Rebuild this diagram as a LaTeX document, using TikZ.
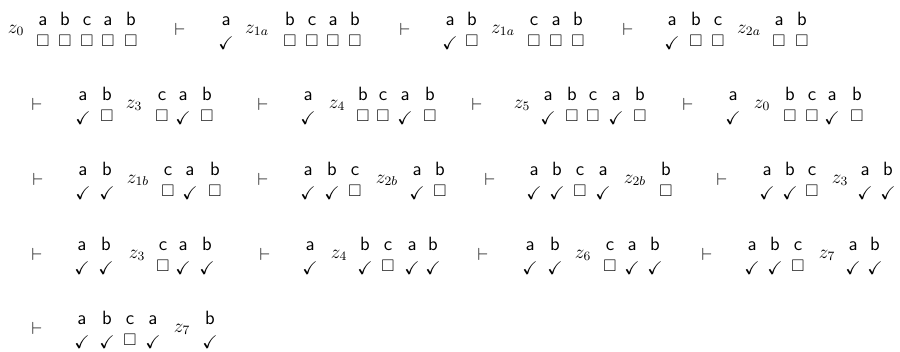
\documentclass[tikz,border=0pt]{standalone}
\usepackage{amssymb}
\tikzset{
  lt/.style={font=\large\sffamily, anchor=base, inner sep=0pt},
  bx/.style={font=\fontsize{10.5}{13}\selectfont, anchor=south, inner sep=0pt},
  ck/.style={font=\fontsize{11.5}{13}\selectfont, anchor=south, inner sep=0pt},
  st/.style={font=\fontsize{11.5}{13}\selectfont, anchor=base, inner sep=0pt},
  ts/.style={font=\fontsize{11}{13}\selectfont, anchor=center, inner sep=0pt},
}
% #1 name, #2 x, #3 row offset, #4 letter
\newcommand{\cfgbox}[4]{%
  \node[lt] (#1l) at (#2,#3+25.5) {#4};
  \node[bx] (#1s) at (#2,#3+46.5) {$\square$};}
\newcommand{\cfgchk}[4]{%
  \node[lt] (#1l) at (#2,#3+25.5) {#4};
  \node[ck] (#1s) at (#2,#3+49.5) {$\checkmark$};}
\newcommand{\cfgst}[4]{\node[st] (#1) at (#2,#3+33) {$#4$};}
\newcommand{\cfgts}[3]{\node[ts] (#1) at (#2,#3+29) {$\vdash$};}
\begin{document}
\begin{tikzpicture}[x=0.625pt,y=-0.625pt]
\useasboundingbox (0,0) rectangle (900,351);
% ---------- row 1 ----------
\cfgst{s11}{16}{0}{z_0}
\cfgbox{a111}{43}{0}{a}\cfgbox{a112}{65}{0}{b}\cfgbox{a113}{87}{0}{c}\cfgbox{a114}{108}{0}{a}\cfgbox{a115}{131}{0}{b}
\cfgts{t12}{180}{0}
\cfgchk{a121}{226}{0}{a}
\cfgst{s12}{257}{0}{z_{1a}}
\cfgbox{a122}{290}{0}{b}\cfgbox{a123}{312}{0}{c}\cfgbox{a124}{333}{0}{a}\cfgbox{a125}{355}{0}{b}
\cfgts{t13}{405}{0}
\cfgchk{a131}{450}{0}{a}\cfgbox{a132}{472}{0}{b}
\cfgst{s13}{503}{0}{z_{1a}}
\cfgbox{a133}{534}{0}{c}\cfgbox{a134}{556}{0}{a}\cfgbox{a135}{578}{0}{b}
\cfgts{t14}{628}{0}
\cfgchk{a141}{672}{0}{a}\cfgbox{a142}{696}{0}{b}\cfgbox{a143}{718}{0}{c}
\cfgst{s14}{749}{0}{z_{2a}}
\cfgbox{a144}{779}{0}{a}\cfgbox{a145}{802}{0}{b}
% ---------- row 2 ----------
\cfgts{t21}{37}{75}
\cfgchk{a211}{83}{75}{a}\cfgbox{a212}{107}{75}{b}
\cfgst{s21}{134}{75}{z_3}
\cfgbox{a213}{162}{75}{c}\cfgchk{a214}{183}{75}{a}\cfgbox{a215}{207}{75}{b}
\cfgts{t22}{263}{75}
\cfgchk{a221}{308}{75}{a}
\cfgst{s22}{337}{75}{z_4}
\cfgbox{a222}{363}{75}{b}\cfgbox{a223}{383}{75}{c}\cfgchk{a224}{405}{75}{a}\cfgbox{a225}{430}{75}{b}
\cfgts{t23}{477}{75}
\cfgst{s23}{522}{75}{z_5}
\cfgchk{a231}{548}{75}{a}\cfgbox{a232}{572}{75}{b}\cfgbox{a233}{593}{75}{c}\cfgchk{a234}{616}{75}{a}\cfgbox{a235}{640}{75}{b}
\cfgts{t24}{688}{75}
\cfgchk{a241}{733}{75}{a}
\cfgst{s24}{762}{75}{z_0}
\cfgbox{a242}{790}{75}{b}\cfgbox{a243}{812}{75}{c}\cfgchk{a244}{832}{75}{a}\cfgbox{a245}{857}{75}{b}
% ---------- row 3 ----------
\cfgts{t31}{38}{150}
\cfgchk{a311}{83}{150}{a}\cfgchk{a312}{107}{150}{b}
\cfgst{s31}{138}{150}{z_{1b}}
\cfgbox{a313}{168}{150}{c}\cfgchk{a314}{190}{150}{a}\cfgbox{a315}{215}{150}{b}
\cfgts{t32}{263}{150}
\cfgchk{a321}{308}{150}{a}\cfgchk{a322}{332}{150}{b}\cfgbox{a323}{355}{150}{c}
\cfgst{s32}{387}{150}{z_{2b}}
\cfgchk{a324}{417}{150}{a}\cfgbox{a325}{440}{150}{b}
\cfgts{t33}{490}{150}
\cfgchk{a331}{534}{150}{a}\cfgchk{a332}{557}{150}{b}\cfgbox{a333}{580}{150}{c}\cfgchk{a334}{603}{150}{a}
\cfgst{s33}{635}{150}{z_{2b}}
\cfgbox{a335}{666}{150}{b}
\cfgts{t34}{722}{150}
\cfgchk{a341}{767}{150}{a}\cfgchk{a342}{790}{150}{b}\cfgbox{a343}{812}{150}{c}
\cfgst{s34}{840}{150}{z_3}
\cfgchk{a344}{865}{150}{a}\cfgchk{a345}{888}{150}{b}
% ---------- row 4 ----------
\cfgts{t41}{37}{225}
\cfgchk{a411}{82}{225}{a}\cfgchk{a412}{106}{225}{b}
\cfgst{s41}{137}{225}{z_3}
\cfgbox{a413}{163}{225}{c}\cfgchk{a414}{183}{225}{a}\cfgchk{a415}{207}{225}{b}
\cfgts{t42}{265}{225}
\cfgchk{a421}{310}{225}{a}
\cfgst{s42}{339}{225}{z_4}
\cfgchk{a422}{365}{225}{b}\cfgbox{a423}{388}{225}{c}\cfgchk{a424}{412}{225}{a}\cfgchk{a425}{433}{225}{b}
\cfgts{t43}{483}{225}
\cfgchk{a431}{530}{225}{a}\cfgchk{a432}{555}{225}{b}
\cfgst{s43}{583}{225}{z_6}
\cfgbox{a433}{610}{225}{c}\cfgchk{a434}{632}{225}{a}\cfgchk{a435}{655}{225}{b}
\cfgts{t44}{707}{225}
\cfgchk{a441}{752}{225}{a}\cfgchk{a442}{775}{225}{b}\cfgbox{a443}{798}{225}{c}
\cfgst{s44}{827}{225}{z_7}
\cfgchk{a444}{853}{225}{a}\cfgchk{a445}{875}{225}{b}
% ---------- row 5 ----------
\cfgts{t51}{37}{299}
\cfgchk{a511}{82}{299}{a}\cfgchk{a512}{107}{299}{b}\cfgbox{a513}{130}{299}{c}\cfgchk{a514}{153}{299}{a}
\cfgst{s51}{182}{299}{z_7}
\cfgchk{a515}{210}{299}{b}
\end{tikzpicture}
\end{document}
